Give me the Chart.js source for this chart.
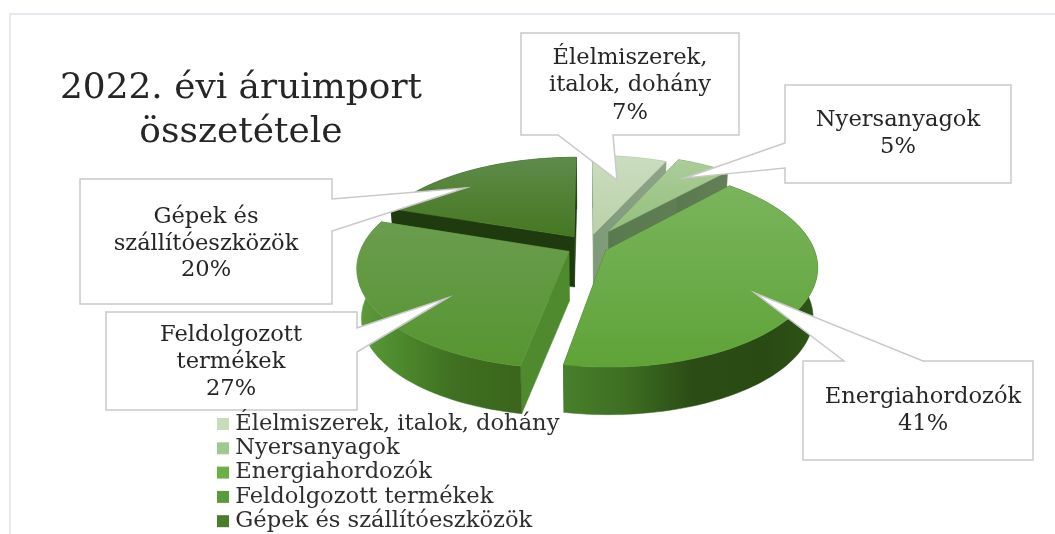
<!DOCTYPE html>
<html>
<head>
<meta charset="utf-8">
<style>
html,body{margin:0;padding:0;background:#fff;overflow:hidden}
#wrap{position:relative;width:1055px;height:534px}
canvas{display:block;filter:blur(.5px)}
</style>
<script src="https://cdn.jsdelivr.net/npm/chart.js@4/dist/chart.umd.js"></script>
</head>
<body>
<div id="wrap"><canvas id="c" width="1055" height="534"></canvas></div>
<script>
const categories = ["Élelmiszerek, italok, dohány","Nyersanyagok","Energiahordozók","Feldolgozott termékek","Gépek és szállítóeszközök"];
const values = [7,5,41,27,20];
const titleLines = ["2022. évi áruimport","összetétele"];
const calloutLines = [["Élelmiszerek,","italok, dohány"],["Nyersanyagok"],["Energiahordozók"],["Feldolgozott","termékek"],["Gépek és","szállítóeszközök"]];

// styles
const FONT = "DejaVu Serif";
const sliceOffsets = [26,38,20,22,24];
const legendColors = ["#c8dcbc","#a0c88f","#6ab145","#5b9a3c","#497d2b"];
const topColors = [["#cbddc0","#bad1a9"],["#abcd99","#95bf7d"],["#7ab45c","#5fa338"],["#6a9c4e","#569530"],["#5f8b49","#457721"]];
const wallColors = [
  [[0,"#7f9a78"],[1,"#8ea388"]],
  [[0,"#597a4e"],[1,"#667f59"]],
  [[0,"#47802a"],[.25,"#3d6e22"],[.5,"#2b4d15"],[.8,"#2a4a14"],[1,"#2e5418"]],
  [[0,"#5f9b3b"],[.25,"#4d8a2d"],[.6,"#3f6f20"],[1,"#3a651c"]],
  [[0,"#1f3a0e"],[1,"#1f3a0e"]]
];
const edgeColors = ["#85a07e","#5f7f55","#2f5518","#4f8a2f","#1f3a0e"];

const RADIUS = 207, SQUASH = .478, PERSP = .165, DEPTH = 50, SHRINK = .02;

// callout geometry: box, pointer base (two points on the box edge) and tip; text line centres
const callouts = [
  {box:[521,33,739,135], base:[[558,135],[613,135]], tip:[617,180], tx:630, ty:[58,85,113]},
  {box:[785,85,1011,183], base:[[785,143],[785,168]], tip:[685,178], tx:898, ty:[120,147]},
  {box:[803,361,1033,460], base:[[844,361],[923,361]], tip:[755,293], tx:923, ty:[397,424]},
  {box:[106,312,357,410], base:[[357,328],[357,352]], tip:[447,298], tx:231, ty:[335,362,389]},
  {box:[80,179,332,304], base:[[332,199],[332,231]], tip:[465,188], tx:206, ty:[217,244,270]}
];

const pie3d = {
  id:"pie3d",
  beforeDraw(chart){
    const {ctx,width,height} = chart;
    ctx.save();
    ctx.fillStyle="#fff"; ctx.fillRect(0,0,width,height);
    ctx.strokeStyle="#e6eaef"; ctx.lineWidth=2;
    ctx.beginPath(); ctx.moveTo(10,height); ctx.lineTo(10,14); ctx.lineTo(width,14); ctx.stroke();
    ctx.restore();
  },
  afterLayout(chart){
    const L = chart.legend;
    L.left = 220.3; L.right = L.left + 345; L.top = 411; L.bottom = L.top + 125;
    L.draw = function(){};           // painted last, above the callouts
    const T = chart.titleBlock;
    T.left = 60; T.right = 422; T.top = 67; T.bottom = T.top + T.height;
  },
  beforeDatasetDraw(chart,args){
    const {ctx} = chart;
    const els = args.meta.data;
    const order = els.map((e,i)=>i).sort((a,b)=>{
      const m = e => (e.startAngle+e.endAngle)/2;
      return Math.sin(m(els[a])) - Math.sin(m(els[b]));
    });
    order.forEach(i=>drawSlice(ctx,els[i],i));
    return false;
  },
  afterDatasetsDraw(chart){
    const {ctx} = chart;
    ctx.save();
    callouts.forEach((c,i)=>{
      const [x0,y0,x1,y1] = c.box;
      ctx.beginPath();
      const pts = [[x0,y0],[x1,y0],[x1,y1],[x0,y1]];
      const [b0,b1] = c.base;
      const path = [];
      for(let e=0;e<4;e++){
        const p=pts[e], q=pts[(e+1)%4];
        path.push(p);
        const on = b => (p[0]===q[0] && b[0]===p[0]) || (p[1]===q[1] && b[1]===p[1]);
        if(on(b0)&&on(b1)){
          const d = b => Math.hypot(b[0]-p[0],b[1]-p[1]);
          const [n,f] = d(b0)<d(b1)?[b0,b1]:[b1,b0];
          path.push(n,c.tip,f);
        }
      }
      path.forEach((p,j)=> j?ctx.lineTo(p[0],p[1]):ctx.moveTo(p[0],p[1]));
      ctx.closePath();
      ctx.fillStyle="#fff"; ctx.fill();
      ctx.strokeStyle="#c9c9c9"; ctx.lineWidth=1.5; ctx.lineJoin="miter"; ctx.stroke();
      ctx.fillStyle="#262626";
      ctx.font=`22.6px "${FONT}"`;
      ctx.textAlign="center"; ctx.textBaseline="middle";
      const lines = calloutLines[i].concat(values[i]+"%");
      lines.forEach((t,j)=>ctx.fillText(t,c.tx,c.ty[j]));
    });
    ctx.restore();
    chart.legend._draw();
  }
};

function drawSlice(ctx,el,i){
  const cx=el.x, cy=el.y, R=el.outerRadius, a0=el.startAngle, a1=el.endAngle;
  const mid=(a0+a1)/2, off=el.options.offset||0;
  const ox=Math.cos(mid)*off, oy=Math.sin(mid)*off;
  const P=(dx,dy,z)=>{
    const s=(1+PERSP*dy/R)*(1-SHRINK*z);
    return [cx+dx*s, cy+SQUASH*dy*s+DEPTH*z];
  };
  const n=Math.max(8,Math.ceil((a1-a0)*40));
  const rim=z=>{const r=[];for(let j=0;j<=n;j++){const a=a0+(a1-a0)*j/n;r.push(P(ox+R*Math.cos(a),oy+R*Math.sin(a),z));}return r;};
  const top=rim(0), bot=rim(1), apT=P(ox,oy,0), apB=P(ox,oy,1);
  const poly=(pts,fill)=>{
    ctx.beginPath();
    pts.forEach((p,j)=>j?ctx.lineTo(p[0],p[1]):ctx.moveTo(p[0],p[1]));
    ctx.closePath(); ctx.fillStyle=fill; ctx.strokeStyle=fill; ctx.lineWidth=.5; ctx.fill(); ctx.stroke();
  };
  ctx.save();
  poly([apT,top[0],bot[0],apB],edgeColors[i]);
  const ptsEnd=[apT,top[n],bot[n],apB];
  let xs=ptsEnd.map(p=>p[0]);
  const eg=ctx.createLinearGradient(Math.min(...xs),0,Math.max(...xs),0);
  wallColors[i].forEach(([o,c])=>eg.addColorStop(o,c));
  poly(ptsEnd,i===3||i===2?edgeColors[i]:eg);
  xs=top.concat(bot).map(p=>p[0]);
  const wg=ctx.createLinearGradient(Math.min(...xs),0,Math.max(...xs),0);
  wallColors[i].forEach(([o,c])=>wg.addColorStop(o,c));
  poly(top.concat(bot.slice().reverse()),wg);
  const tp=[apT].concat(top), ys=tp.map(p=>p[1]);
  const tg=ctx.createLinearGradient(0,Math.min(...ys),0,Math.max(...ys));
  tg.addColorStop(0,topColors[i][0]); tg.addColorStop(1,topColors[i][1]);
  poly(tp,tg);
  ctx.restore();
}

new Chart(document.getElementById("c"),{
  type:"pie",
  data:{labels:categories,datasets:[{
    data:values,
    backgroundColor:legendColors,
    borderColor:legendColors,
    borderWidth:10,
    offset:sliceOffsets,
    radius:RADIUS
  }]},
  options:{
    responsive:false,
    animation:false,
    layout:{padding:{left:120,right:0,top:0,bottom:130}},
    plugins:{
      tooltip:{enabled:false},
      title:{display:true,text:titleLines,position:"top",color:"#262626",
        font:{family:FONT,size:36,weight:"normal",lineHeight:44/36},padding:0},
      legend:{display:true,position:"left",align:"start",maxWidth:1,
        labels:{boxWidth:2,boxHeight:2,padding:1.7,color:"#2e2e2e",
          font:{family:FONT,size:22.6}}}
    }
  },
  plugins:[pie3d]
});
</script>
</body>
</html>
